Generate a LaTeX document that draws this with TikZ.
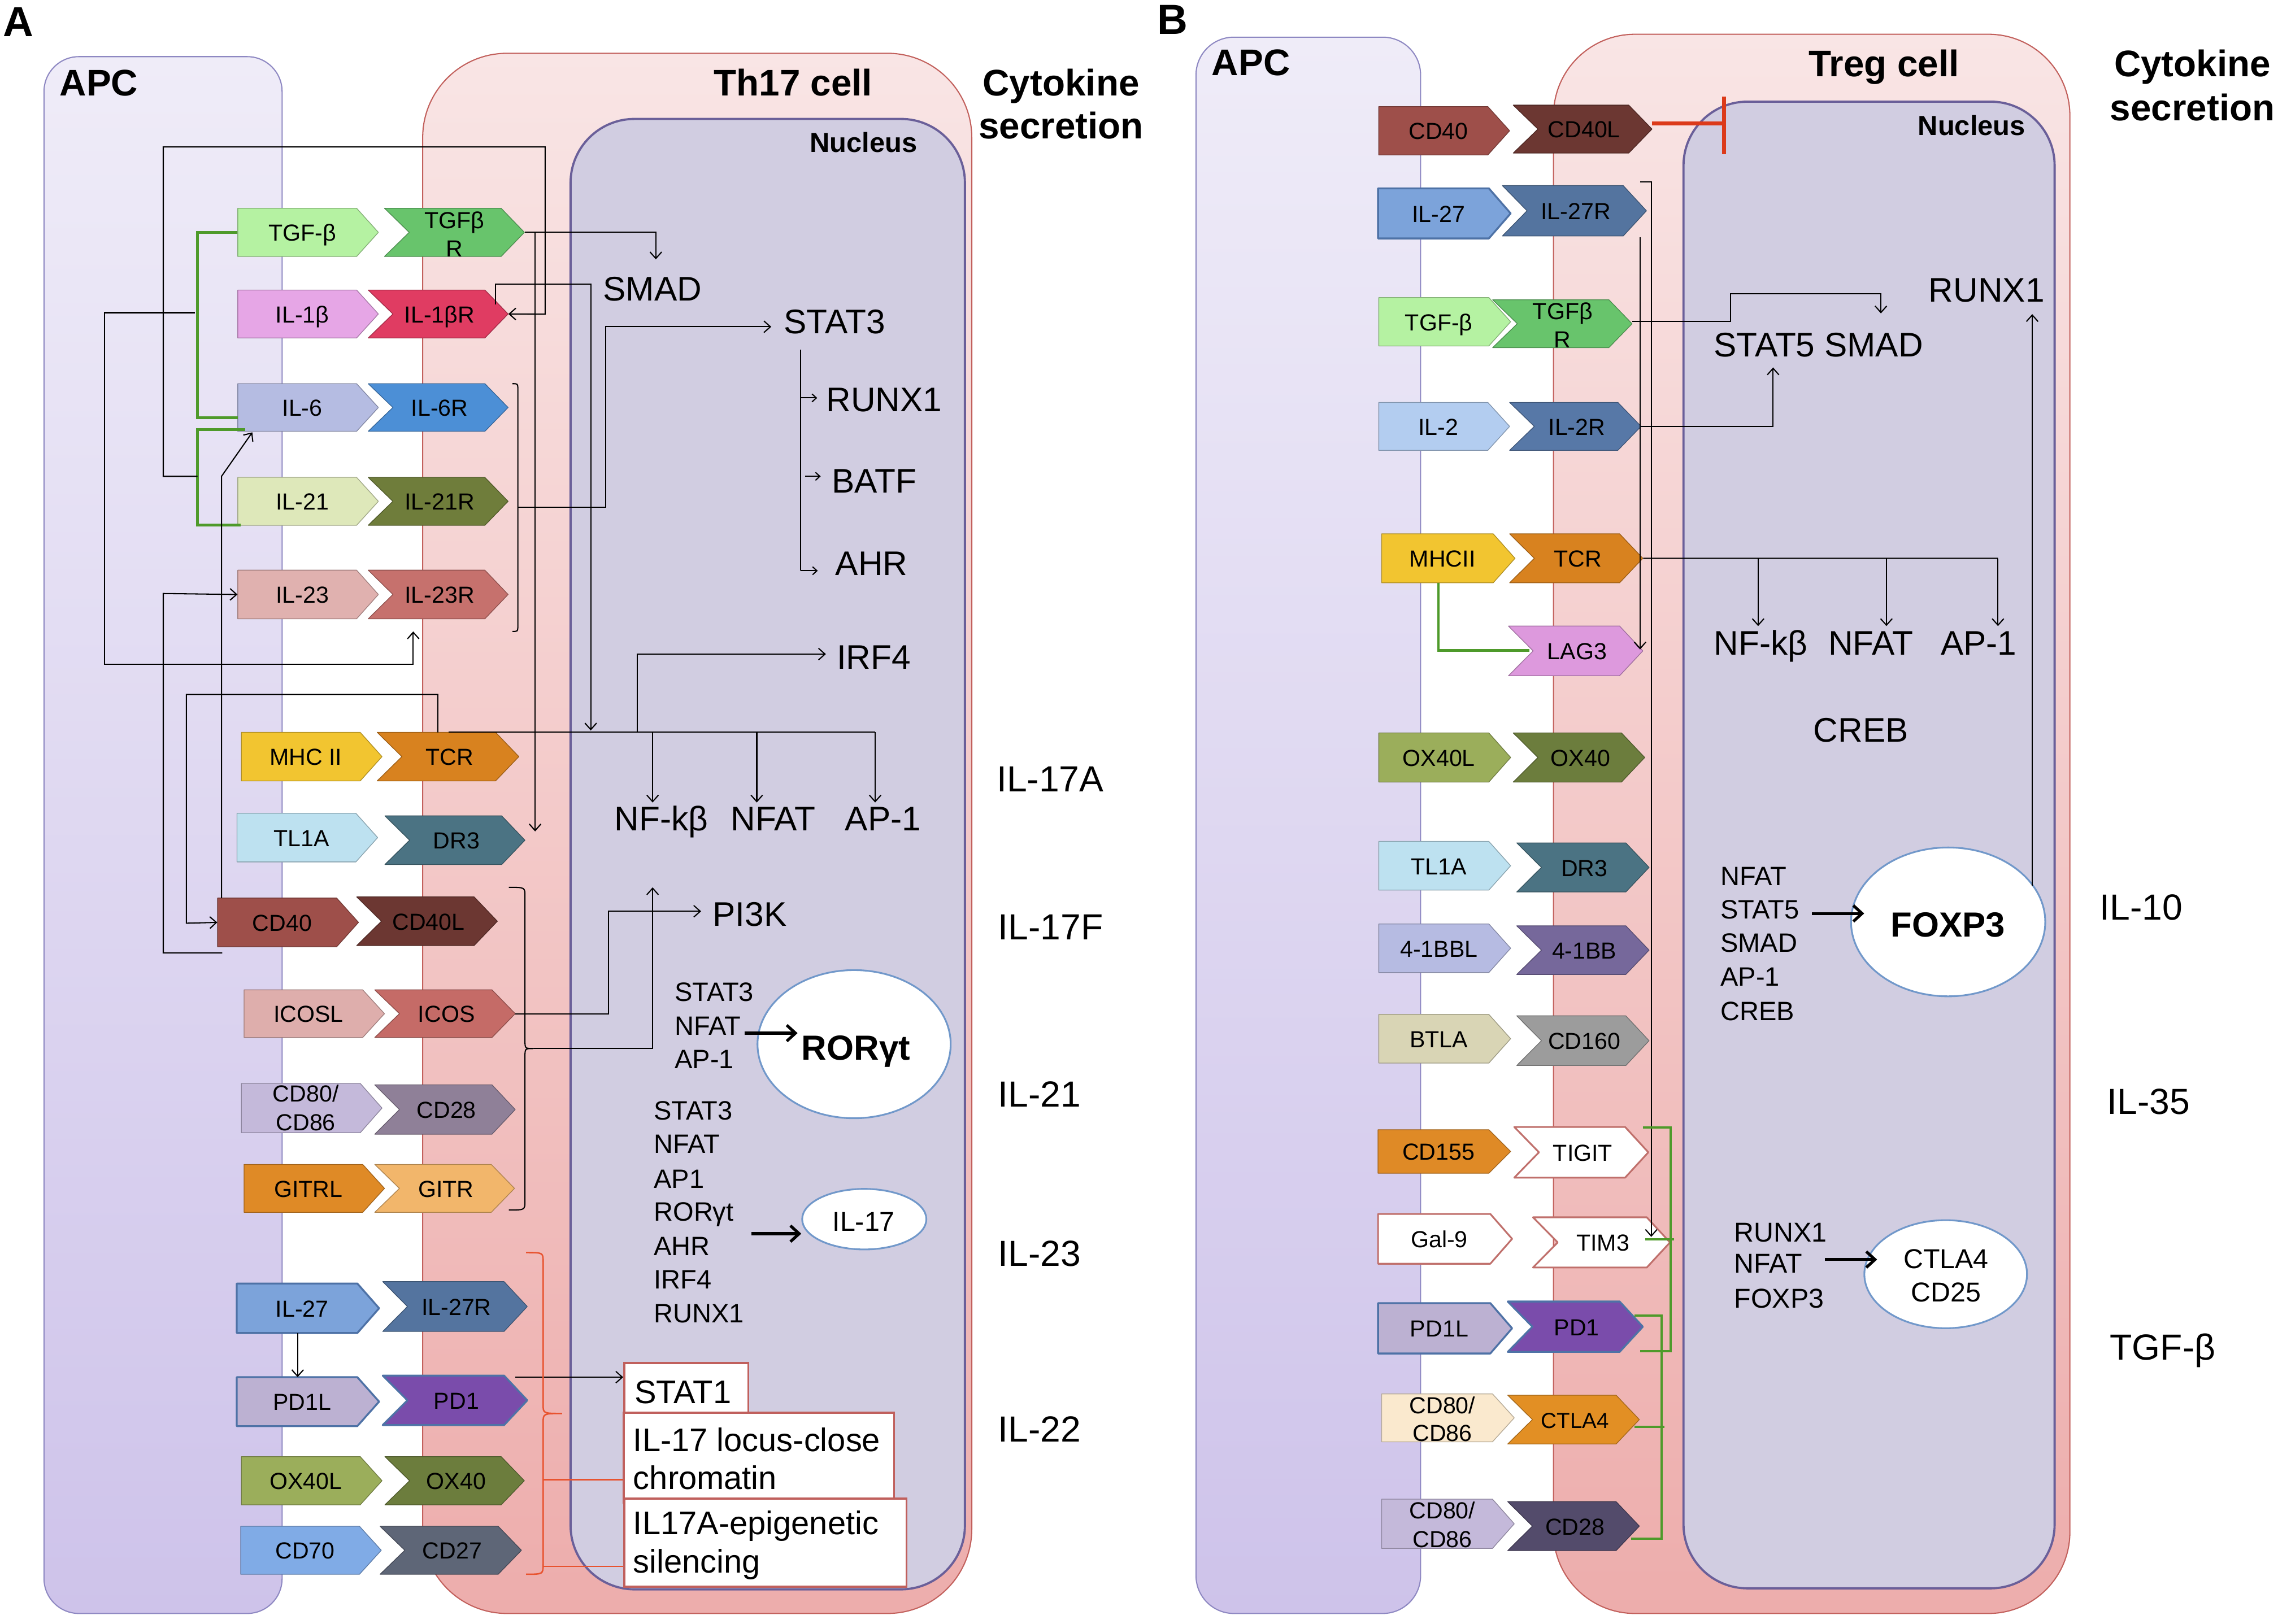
\documentclass[tikz,border=0pt]{standalone}
\usepackage{fontspec}
\setmainfont{Liberation Sans}
\usetikzlibrary{arrows.meta,fit,shapes.geometric}
\definecolor{apcTop}{HTML}{EFECF8}
\definecolor{apcBot}{HTML}{CEC3EA}
\definecolor{apcLn}{HTML}{8E88C2}
\definecolor{celTop}{HTML}{F9E5E5}
\definecolor{celBot}{HTML}{EDADAC}
\definecolor{celLn}{HTML}{C2605C}
\definecolor{nucF}{HTML}{D1CDE1}
\definecolor{nucLn}{HTML}{6A5F99}
\definecolor{grnC}{HTML}{4E9A2A}
\definecolor{redC}{HTML}{E8532F}
\definecolor{inhC}{HTML}{DC3A1A}
\definecolor{bluB}{HTML}{4E72A6}
\definecolor{redB}{HTML}{C0706C}
\definecolor{ellB}{HTML}{7198CA}
\definecolor{boxB}{HTML}{C0605D}
\tikzset{
 shp/.style={line width=0.5pt,line join=round},
 lbl/.style={font=\fontsize{16}{18}\selectfont,inner sep=0pt,anchor=base},
 hd/.style={font=\bfseries\fontsize{25.5}{30}\selectfont,inner sep=0pt},
 pl/.style={font=\bfseries\fontsize{29}{32}\selectfont,inner sep=0pt,anchor=base west},
 nuc/.style={font=\bfseries\fontsize{19}{22}\selectfont,inner sep=0pt},
 cyt/.style={font=\fontsize{25}{30}\selectfont,inner sep=0pt,anchor=base west},
 big/.style={font=\fontsize{23.5}{28}\selectfont,inner sep=0pt,anchor=base west},
 sm/.style={font=\fontsize{18.3}{22}\selectfont,inner sep=0pt,anchor=base west},
 smc/.style={font=\fontsize{18.8}{22}\selectfont,inner sep=0pt,anchor=base},
 bx/.style={font=\fontsize{22.5}{26}\selectfont,inner sep=0pt,anchor=base west},
 bld/.style={font=\bfseries\fontsize{24}{28}\selectfont,inner sep=0pt},
 ln/.style={draw=black,line width=0.8pt},
 arr/.style={ln,-{Straight Barb[length=4.5pt,width=8pt]}},
 sarr/.style={ln,-{Straight Barb[length=3pt,width=5.5pt]}},
 tarr/.style={draw=black,line width=2pt,-{Straight Barb[length=6pt,width=11pt]}},
 grn/.style={draw=grnC,line width=2pt},
 grnt/.style={draw=grnC,line width=1.6pt},
 rbr/.style={draw=redC,line width=1pt},
 inh/.style={draw=inhC,line width=2.5pt},
 ell/.style={ellipse,draw=ellB,fill=white,line width=1.2pt,inner sep=0pt},
 tbox/.style={draw=boxB,fill=white,line width=1.5pt,inner sep=0pt}
}
\newcommand\mkLig[8][]{%
  \definecolor{c#2}{HTML}{#7}%
  \path[shp,fill=c#2,draw=c#2!72!black,#1] (#3,#5) -- ({#4-15},#5) -- (#4,{(#5+#6)/2}) -- ({#4-15},#6) -- (#3,#6) -- cycle;
  \node[fit={(#3,#5) (#4,#6)},inner sep=0pt] (#2) {};
  \node[lbl] (#2t) at ({(#3+#4)/2-4},{(#5+#6)/2+6}) {#8};
}
\newcommand\mkRec[8][]{%
  \definecolor{c#2}{HTML}{#7}%
  \path[shp,fill=c#2,draw=c#2!72!black,#1] (#3,#5) -- ({#4-16},#5) -- (#4,{(#5+#6)/2}) -- ({#4-16},#6) -- (#3,#6) -- ({#3+17},{(#5+#6)/2}) -- cycle;
  \node[fit={(#3,#5) (#4,#6)},inner sep=0pt] (#2) {};
  \node[lbl] (#2t) at ({(#3+#4)/2+1},{(#5+#6)/2+6}) {#8};
}
\begin{document}
\begin{tikzpicture}[x=1pt,y=-1pt]
\fill[white] (0,0) rectangle (1568.3,1118.2);
\useasboundingbox (0,0) rectangle (1568.3,1118.2);

% ---------- cell outlines ----------
\path[draw=apcLn,line width=0.8pt,top color=apcTop,bottom color=apcBot,rounded corners=24pt] (30.3,39) rectangle (194.2,1111);
\path[draw=celLn,line width=0.8pt,top color=celTop,bottom color=celBot,rounded corners=58pt] (291,36.7) rectangle (669,1111);
\path[draw=nucLn,line width=1.5pt,fill=nucF,rounded corners=44pt] (392.8,81.9) rectangle (664.3,1094.4);
\path[draw=apcLn,line width=0.8pt,top color=apcTop,bottom color=apcBot,rounded corners=26pt] (823.4,25.6) rectangle (978,1111);
\path[draw=celLn,line width=0.8pt,top color=celTop,bottom color=celBot,rounded corners=56pt] (1069.5,23.6) rectangle (1425,1111);
\path[draw=nucLn,line width=1.5pt,fill=nucF,rounded corners=44pt] (1159,70) rectangle (1414.5,1093.7);

% ---------- panel A ligands / receptors ----------
\mkLig{tgfA}{163.7}{260.5}{143.4}{176.6}{B5F2A2}{TGF-β}
\mkRec{tgfbrA}{264.7}{361}{143.4}{176.6}{68C46C}{}
\node[lbl] (tgfbrAt1) at (312.8,157.5) {TGFβ};
\node[lbl] (tgfbrAt2) at (312.8,176.6) {R};
\mkLig{ilobA}{163.7}{260.5}{199.7}{232.7}{E6A6E6}{IL-1β}
\mkRec{ilobrA}{253.5}{349.8}{199.7}{232.7}{E03C62}{IL-1βR}
\mkLig{ilsixA}{163.7}{260.5}{264.2}{297}{B5BCE2}{IL-6}
\mkRec{ilsixrA}{253.5}{349.8}{264.2}{297}{4C8FD6}{IL-6R}
\mkLig{iltwoA}{163.7}{260.5}{328.7}{361.7}{DEE8BA}{IL-21}
\mkRec{iltworA}{253.5}{349.8}{328.7}{361.7}{6F7D3B}{IL-21R}
\mkLig{iltthA}{163.7}{260.5}{392.6}{426.1}{E0B1AF}{IL-23}
\mkRec{iltthrA}{253.5}{349.8}{392.6}{426.1}{C6716D}{IL-23R}
\mkLig{mhcA}{166.2}{263}{504.3}{537.7}{F2C530}{MHC II}
\mkRec{tcrA}{259.7}{357.2}{504.3}{537.7}{D8821F}{TCR}
\mkLig{tloaA}{163.2}{260}{560}{593.5}{BDE1F0}{TL1A}
\mkRec{drthA}{265}{361.4}{561.8}{595.3}{4B7383}{DR3}
\mkLig{cdfoA}{149.8}{246.8}{618.4}{651.9}{9E4F4A}{CD40}
\mkRec{cdfolA}{245.6}{342.4}{617.6}{651.1}{6C3732}{CD40L}
\mkLig{icoslA}{168}{264.7}{681.6}{714.4}{DEAEAC}{ICOSL}
\mkRec{icosA}{258}{354.7}{681.6}{714.4}{C56B67}{ICOS}
\mkLig{cdeiA}{166.2}{263}{746}{780}{C4B9DA}{}
\node[lbl] (cdeiAt1) at (210.5,758.5) {CD80/};
\node[lbl] (cdeiAt2) at (210.5,778.5) {CD86};
\mkRec{cdteA}{258}{354.7}{747}{781}{8F8098}{CD28}
\mkLig{gitrlA}{168}{264.7}{801.8}{834.8}{DF8A26}{GITRL}
\mkRec{gitrA}{258}{354.2}{801.8}{834.8}{F2B66B}{GITR}
\mkLig[draw=bluB,line width=1.3pt]{iltsA}{163}{261}{883.8}{917.9}{7CA3DA}{IL-27}
\mkRec{iltsrA}{263.5}{363}{882.5}{916.8}{54749F}{IL-27R}
\mkLig[draw=bluB,line width=1.3pt]{pdolA}{163}{261}{948.3}{982}{BCB1D2}{PD1L}
\mkRec[draw=bluB,line width=1.3pt]{pdoA}{263.5}{363}{947.2}{981.3}{7A4CAB}{PD1}
\mkLig{oxlA}{166.2}{263}{1003}{1036.2}{9BAE5B}{OX40L}
\mkRec{oxA}{265}{361}{1003}{1036.2}{6C7D3D}{OX40}
\mkLig{cdseA}{165.7}{262.5}{1051}{1084}{80ABE6}{CD70}
\mkRec{cdtsA}{261.7}{359}{1051}{1084}{5E6677}{CD27}

% ---------- panel B ligands / receptors ----------
\mkLig{cdfoB}{949.2}{1039.3}{73.4}{106.7}{9E4F4A}{CD40}
\mkRec{cdfolB}{1041.8}{1137.3}{72.4}{105.4}{6C3732}{CD40L}
\mkLig[draw=bluB,line width=1.3pt]{iltsB}{948.7}{1040}{129.7}{164.2}{7CA3DA}{IL-27}
\mkRec{iltsrB}{1034.3}{1133.5}{127.8}{162.5}{54749F}{IL-27R}
\mkLig{tgfB}{949.2}{1040}{204.9}{238.2}{B5F2A2}{TGF-β}
\mkRec{tgfbrB}{1027.6}{1123.6}{206.4}{239.4}{68C46C}{}
\node[lbl] (tgfbrBt1) at (1075.8,220) {TGFβ};
\node[lbl] (tgfbrBt2) at (1075.8,239.4) {R};
\mkLig{iltB}{949.2}{1039.3}{277.1}{310.1}{B3CDF0}{IL-2}
\mkRec{iltrB}{1039.3}{1129.8}{277.1}{310.1}{5778A7}{IL-2R}
\mkLig{mhcB}{951.2}{1043}{367.6}{401.3}{F2C530}{MHCII}
\mkRec{tcrB}{1039.3}{1131}{367.6}{401.3}{D8821F}{TCR}
\mkRec{lagB}{1038.5}{1131}{431.1}{465.3}{DD99DD}{LAG3}
\mkLig{oxlB}{949.2}{1040}{504.7}{538.5}{9BAE5B}{OX40L}
\mkRec{oxB}{1041.8}{1132.3}{504.7}{538.5}{6C7D3D}{OX40}
\mkLig{tloaB}{949.2}{1040}{579.4}{612.9}{BDE1F0}{TL1A}
\mkRec{drthB}{1044.2}{1135.3}{580.4}{614.2}{4B7383}{DR3}
\mkLig{bbllB}{949.2}{1040}{636.2}{669.7}{B6BBE2}{4-1BBL}
\mkRec{bbB}{1044.2}{1135.3}{637.5}{671}{76689B}{4-1BB}
\mkLig{btlaB}{949.2}{1040}{698.5}{732}{D9D5B5}{BTLA}
\mkRec{cdosB}{1044.2}{1135.3}{699.5}{733.7}{9C9C9C}{CD160}
\mkLig{cdoffB}{948.7}{1040}{777.9}{807.9}{DF8A26}{CD155}
\mkRec[draw=redB,line width=1.2pt]{tigitB}{1042.5}{1134.8}{776}{810.9}{FFFFFF}{TIGIT}
\mkLig[draw=redB,line width=1.2pt]{galB}{948.7}{1041}{835.9}{870.2}{FFFFFF}{Gal-9}
\mkRec[draw=redB,line width=1.2pt]{timB}{1055.4}{1149.7}{838.2}{872.8}{FFFFFF}{TIM3}
\mkLig[draw=bluB,line width=1.3pt]{pdolB}{948.7}{1041}{897.3}{932}{BCB1D2}{PD1L}
\mkRec[draw=bluB,line width=1.3pt]{pdoB}{1038}{1131}{896.2}{930.9}{7A4CAB}{PD1}
\mkLig{cdeiB}{951.2}{1042.5}{959.8}{992.8}{FAE9CE}{}
\node[lbl] (cdeiBt1) at (993,973.3) {CD80/};
\node[lbl] (cdeiBt2) at (993,992.4) {CD86};
\mkRec{ctlaB}{1038}{1128.6}{960.7}{994.3}{E28F24}{\fontsize{15}{17}\selectfont CTLA4}
\mkLig{cdeiiB}{951.2}{1042.5}{1032.3}{1066.2}{C4B9DA}{}
\node[lbl] (cdeiiBt1) at (993,1045.9) {CD80/};
\node[lbl] (cdeiiBt2) at (993,1065.5) {CD86};
\mkRec{cdteB}{1038}{1128.6}{1034}{1067.7}{534B6B}{CD28}

% ---------- ellipses and boxes ----------
\node[ell,minimum width=133pt,minimum height=102pt] (rorE) at (588,719) {};
\node[ell,minimum width=85.5pt,minimum height=41.7pt] (ilsevE) at (595,839.5) {};
\node[tbox,fit={(429.8,938.5) (515.2,972.8)}] (statoBox) {};
\node[tbox,fit={(429.3,972.8) (615.5,1034.5)}] (locusBox) {};
\node[tbox,fit={(429.8,1031.9) (624.1,1092.6)}] (silBox) {};
\node[ell,minimum width=133.7pt,minimum height=102.5pt] (foxE) at (1341.2,634.8) {};
\node[ell,minimum width=112pt,minimum height=74.4pt] (ctlaE) at (1339.5,877.4) {};

% ---------- panel A connectors ----------
\draw[grn] (tgfA.west) -- (136,160) -- (136,287.8) -- (163.7,287.8);
\draw[grn] (168.7,295.7) -- (136,295.7) -- (136,361.7) -- (165.7,361.7);
\draw[arr] (tgfbrA.east) -- (451.5,160) -- (451.5,178.6);
\draw[arr] (368.4,160) -- (368.4,572.5);
\draw[arr] (341.1,209.6) -- (341.1,195.5) -- (406.7,195.5) -- (406.7,503);
\draw[ln] (352.8,264.2) .. controls (356.5,264.2) .. (356.5,268) -- (356.5,431) .. controls (356.5,434.8) .. (352.8,434.8);
\draw[arr] (356.5,349.3) -- (417,349.3) -- (417,225) -- (531,225);
\draw[ln] (551,240.6) -- (551,393);
\draw[sarr] (551,274) -- (562.6,274);
\draw[sarr] (554.4,328) -- (565,328);
\draw[sarr] (551,393) -- (563,393);
\draw[ln] (308.9,504) -- (602.5,504);
\draw[arr] (449.3,504) -- (449.3,552.6);
\draw[arr] (521,504) -- (521,552.6);
\draw[arr] (602.5,504) -- (602.5,552.6);
\draw[arr] (438.9,504) -- (438.9,450.4) -- (568.6,450.4);
\draw[arr] (301.4,504.3) -- (301.4,478.2) -- (128.3,478.2) -- (128.3,635.7) -- (cdfoA.west);
\draw[arr] (152.5,618.4) -- (152.5,328) -- (173.7,297.7);
\draw[arr] (153,656.1) -- (112.4,656.1) -- (112.4,408.7) -- (iltthA.west);
\draw[arr] (134,215.3) -- (71.9,215.3) -- (71.9,457.6) -- (284.5,457.6) -- (284.5,434.8);
\draw[arr] (136,328) -- (112.4,328) -- (112.4,101.2) -- (375.3,101.2) -- (375.3,216.3) -- (ilobrA.east);
\draw[arr] (icosA.east) -- (418.9,698) -- (418.9,627.5) -- (482.7,627.5);
\draw[ln] (350.3,611) .. controls (361.4,611) .. (361.4,617) -- (361.4,716) .. controls (361.4,722) .. (367,722) .. controls (361.4,722) .. (361.4,728) -- (361.4,827) .. controls (361.4,833.2) .. (350.3,833.2);
\draw[arr] (367,722) -- (449.3,722) -- (449.3,611);
\draw[arr] (204.9,917.9) -- (204.9,948.3);
\draw[arr] (354.7,948.3) -- (statoBox.west |- 0,948.3);
\draw[rbr] (362.2,862.5) .. controls (373.9,862.5) .. (373.9,869) -- (373.9,967) .. controls (373.9,973.3) .. (387,973.3) .. controls (373.9,973.3) .. (373.9,980) -- (373.9,1077) .. controls (373.9,1084) .. (362.2,1084);
\draw[rbr] (373.9,1018.8) -- (locusBox.west |- 0,1018.8);
\draw[rbr] (373.9,1078.5) -- (silBox.west |- 0,1078.5);
\draw[tarr] (512.6,711.4) -- (549.1,711.4);
\draw[tarr] (517.3,849.5) -- (ilsevE.west |- 0,849.5);

% ---------- panel B connectors ----------
\draw[inh] (1137.3,85) -- (1186.9,85);
\draw[inh] (1186.9,66.5) -- (1186.9,106.2);
\draw[arr] (1129.3,125.3) -- (1136.8,125.3) -- (1136.8,851.7);
\draw[arr] (1129.1,163.2) -- (1129.1,447.2);
\draw[arr] (1123.6,221.5) -- (1191.2,221.5) -- (1191.2,202.2) -- (1294.9,202.2) -- (1294.9,215.8);
\draw[arr] (iltrB.east) -- (1220.7,293.6) -- (1220.7,253);
\draw[ln] (tcrB.east) -- (1375.5,384.45);
\draw[arr] (1210.4,384.5) -- (1210.4,431.1);
\draw[arr] (1298.7,384.5) -- (1298.7,431.1);
\draw[arr] (1375.5,384.5) -- (1375.5,431.1);
\draw[arr] (1399.1,609.7) -- (1399.1,216.3);
\draw[tarr] (1247.5,629) -- (1283.4,629);
\draw[tarr] (1256.5,867.3) -- (1292.3,867.3);
\draw[grnt] (990.4,401.3) -- (990.4,447.9) -- (1052.9,447.9);
\draw[grnt] (1131,776.4) -- (1150.2,776.4) -- (1150.2,930.5) -- (1129.3,930.5);
\draw[grnt] (1132.8,853.4) -- (1152.6,853.4);
\draw[grnt] (1125.4,906) -- (1144,906) -- (1144,1059.6) -- (1122.9,1059.6);
\draw[grnt] (1125.4,982.6) -- (1146,982.6);

% ---------- panel A texts ----------
\node[pl] (labA) at (2,25) {A};
\node[hd,anchor=base west] (apcAt) at (41,66) {APC};
\node[hd,anchor=base] (thcell) at (546,66) {Th17 cell};
\node[nuc,anchor=base] (nucAt) at (594.6,105) {Nucleus};
\node[hd,anchor=base] (cytAa) at (730.5,66) {Cytokine};
\node[hd,anchor=base] (cytAb) at (730.5,95.5) {secretion};
\node[cyt] (csA1) at (686,545) {IL-17A};
\node[cyt] (csA2) at (687,647) {IL-17F};
\node[cyt] (csA3) at (687,762) {IL-21};
\node[cyt] (csA4) at (687,872) {IL-23};
\node[cyt] (csA5) at (687,993) {IL-22};
\node[big] (smadA) at (415,207) {SMAD};
\node[big] (statA) at (539.5,229.5) {STAT3};
\node[big] (runxA) at (568.7,283.3) {RUNX1};
\node[big] (batfA) at (572.5,339.4) {BATF};
\node[big] (ahrA) at (575,396.3) {AHR};
\node[big] (irfA) at (575.9,460.8) {IRF4};
\node[big] (nfkbA) at (422.8,572) {NF-kβ};
\node[big] (nfatA) at (503,572) {NFAT};
\node[big] (apoA) at (581.6,572) {AP-1};
\node[big] (pikA) at (490.5,637.7) {PI3K};
\node[sm] (la1) at (464.4,689.6) {STAT3};
\node[sm] (la2) at (464.4,712.6) {NFAT};
\node[sm] (la3) at (464.4,735.7) {AP-1};
\node[bld,anchor=base west] (rorT) at (551.7,730) {RORγt};
\node[sm] (lb1) at (450,771) {STAT3};
\node[sm] (lb2) at (450,794.2) {NFAT};
\node[sm] (lb3) at (450,818) {AP1};
\node[sm] (lb4) at (450,840.8) {RORγt};
\node[sm] (lb5) at (450,864.3) {AHR};
\node[sm] (lb6) at (450,887.5) {IRF4};
\node[sm] (lb7) at (450,910.7) {RUNX1};
\node[smc] (ilsevT) at (594.6,847.8) {IL-17};
\node[bx] (statoT) at (436.6,966.3) {STAT1};
\node[bx] (locT1) at (435.8,999.3) {IL-17 locus-close};
\node[bx] (locT2) at (435.8,1025.3) {chromatin};
\node[bx] (silT1) at (435.8,1056.8) {IL17A-epigenetic};
\node[bx] (silT2) at (435.8,1082.9) {silencing};

% ---------- panel B texts ----------
\node[pl] (labB) at (796.5,23.6) {B};
\node[hd,anchor=base west] (apcBt) at (834.1,52.1) {APC};
\node[hd,anchor=base] (tregT) at (1297,52.6) {Treg cell};
\node[nuc,anchor=base] (nucBt) at (1357.4,93) {Nucleus};
\node[hd,anchor=base] (cytBa) at (1509.4,52.6) {Cytokine};
\node[hd,anchor=base] (cytBb) at (1509.4,83.1) {secretion};
\node[cyt] (csB1) at (1445.5,633.3) {IL-10};
\node[cyt] (csB2) at (1450.6,767.2) {IL-35};
\node[cyt] (csB3) at (1452.4,936.4) {TGF-β};
\node[big] (stsmB) at (1179.7,245.6) {STAT5 SMAD};
\node[big] (runxB) at (1327.7,207.9) {RUNX1};
\node[big] (nfkbB) at (1179.7,450.9) {NF-kβ};
\node[big] (nfatB) at (1258.5,450.9) {NFAT};
\node[big] (apoB) at (1335.9,450.9) {AP-1};
\node[big] (crebB) at (1248.3,511) {CREB};
\node[bld,anchor=base] (foxT) at (1341,645) {FOXP3};
\node[sm] (lc1) at (1184.3,609.7) {NFAT};
\node[sm] (lc2) at (1184.3,632.5) {STAT5};
\node[sm] (lc3) at (1184.3,655.6) {SMAD};
\node[sm] (lc4) at (1184.3,679.1) {AP-1};
\node[sm] (lc5) at (1184.3,702.7) {CREB};
\node[sm,font=\fontsize{18.8}{22}\selectfont] (ld1) at (1193.8,855) {RUNX1};
\node[sm,font=\fontsize{18.8}{22}\selectfont] (ld2) at (1193.8,876.7) {NFAT};
\node[sm,font=\fontsize{18.8}{22}\selectfont] (ld3) at (1193.8,900.5) {FOXP3};
\node[smc] (ctlaT1) at (1339.7,873.4) {CTLA4};
\node[smc] (ctlaT2) at (1339.7,896.2) {CD25};
\end{tikzpicture}
\end{document}
